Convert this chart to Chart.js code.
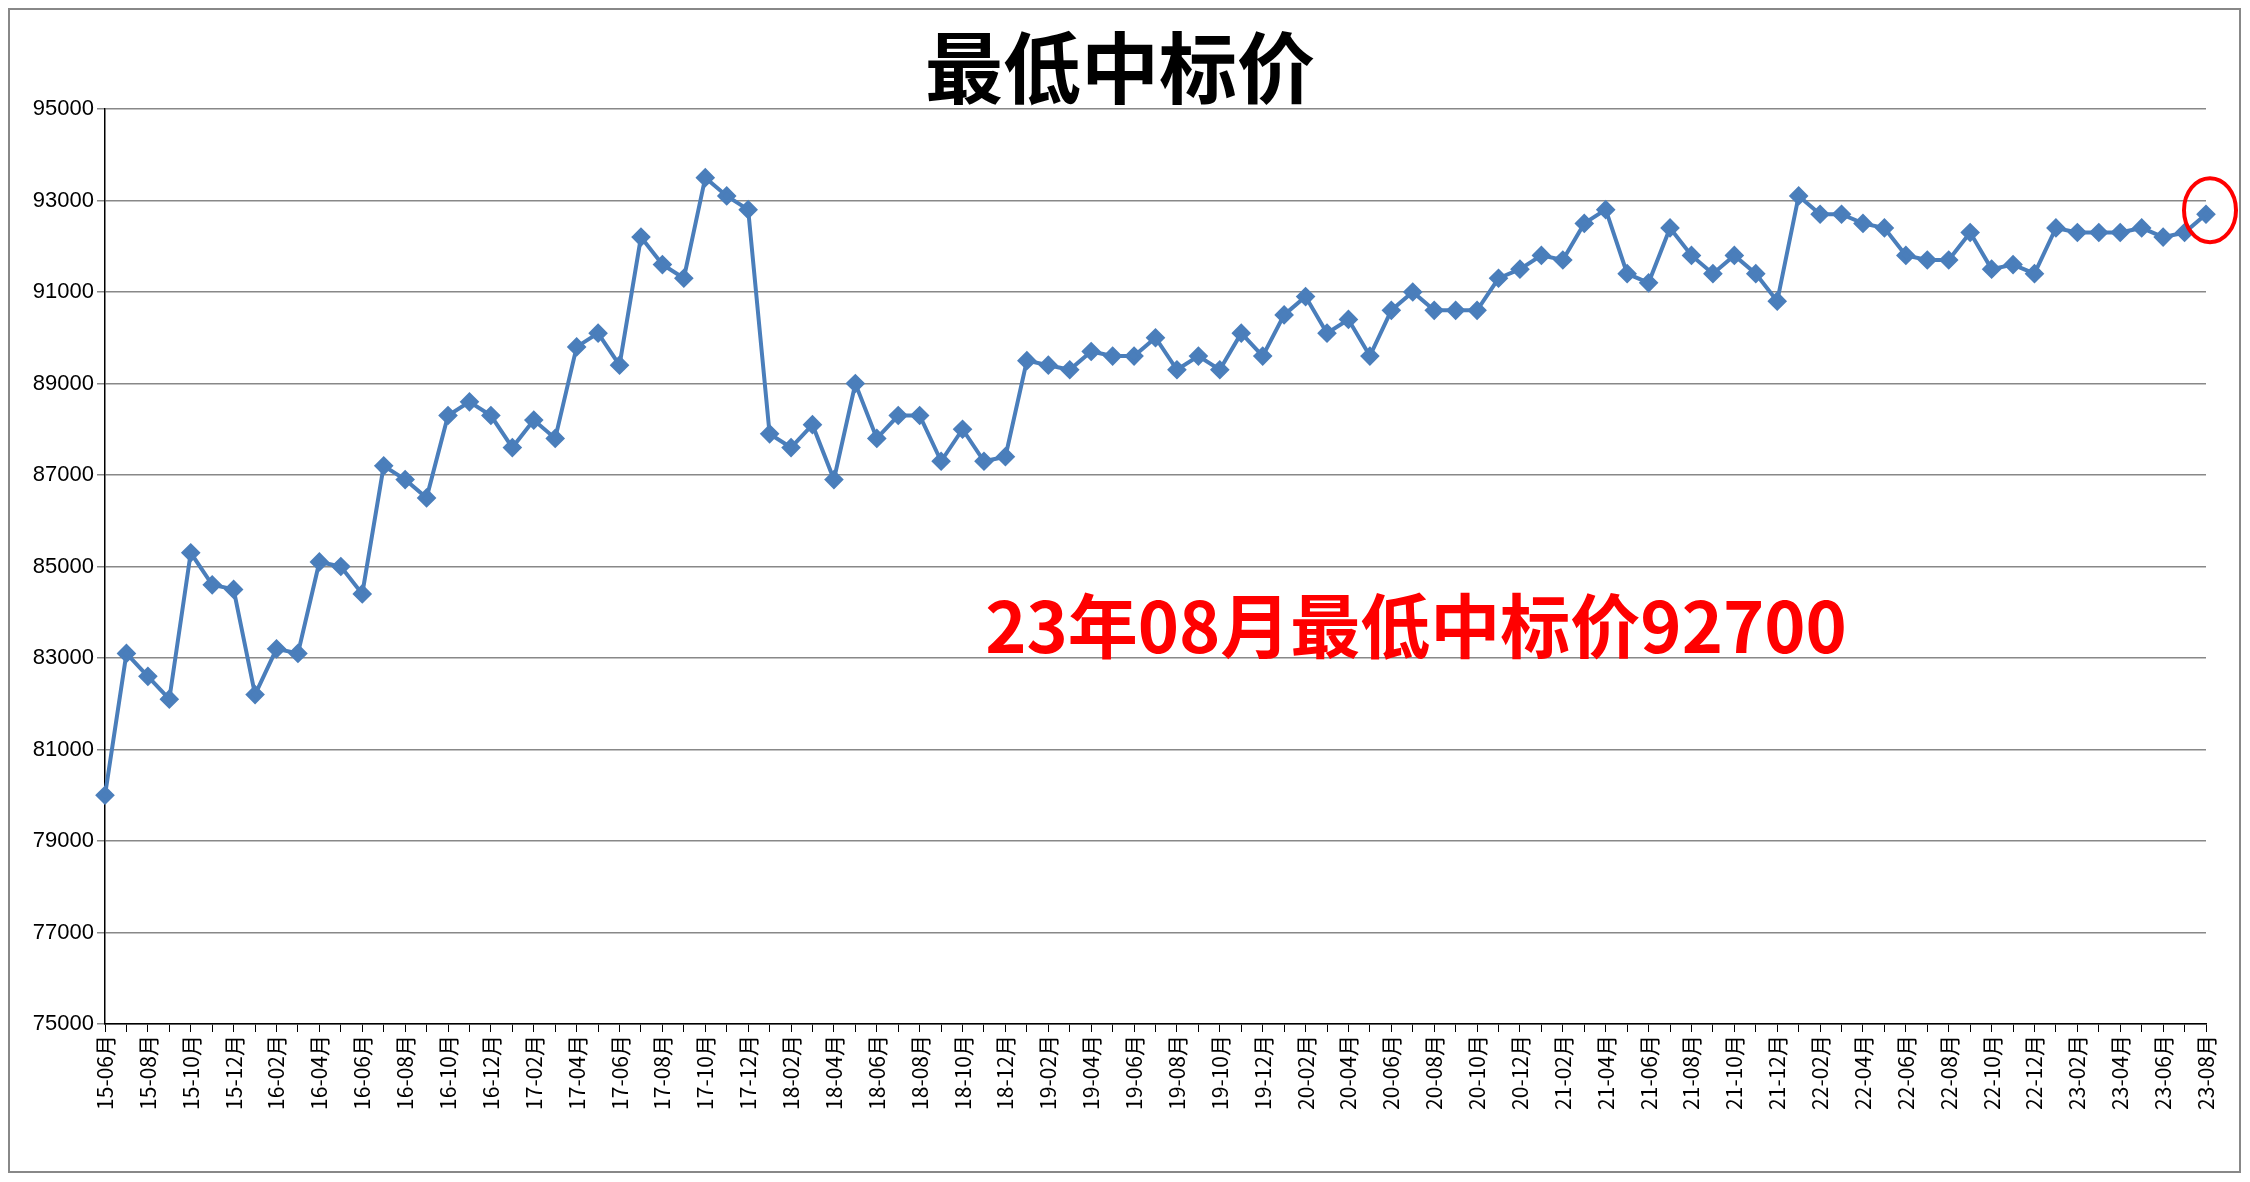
<!DOCTYPE html>
<html><head><meta charset="utf-8">
<script src="https://cdn.jsdelivr.net/npm/chart.js@4"></script>
<style>html,body{margin:0;padding:0;background:#fff}</style>
</head><body>
<canvas id="c" width="2250" height="1182"></canvas>
<script>
const months = [];
for (let y = 15; y <= 23; y++) for (let m = 1; m <= 12; m++) {
  if ((y === 15 && m < 6) || (y === 23 && m > 8)) continue;
  months.push(y + '-' + String(m).padStart(2, '0') + '月');
}
const prices = [80000,83100,82600,82100,85300,84600,84500,82200,83200,83100,85100,85000,84400,87200,86900,86500,88300,88600,88300,87600,88200,87800,89800,90100,89400,92200,91600,91300,93500,93100,92800,87900,87600,88100,86900,89000,87800,88300,88300,87300,88000,87300,87400,89500,89400,89300,89700,89600,89600,90000,89300,89600,89300,90100,89600,90500,90900,90100,90400,89600,90600,91000,90600,90600,90600,91300,91500,91800,91700,92500,92800,91400,91200,92400,91800,91400,91800,91400,90800,93100,92700,92700,92500,92400,91800,91700,91700,92300,91500,91600,91400,92400,92300,92300,92300,92400,92200,92300,92700];
const titleText = '最低中标价';
const noteText = '23年08月最低中标价92700';
const yMin = 75000, yMax = 95000, yStep = 2000;

const deco = {
  id: 'deco',
  afterDraw(chart) {
    const ctx = chart.ctx;
    ctx.save();
    ctx.strokeStyle = '#888'; ctx.lineWidth = 2;
    ctx.strokeRect(9, 9, 2231, 1163);
    ctx.fillStyle = '#000';
    ctx.font = 'bold 78px "Noto Sans CJK SC"';
    ctx.textAlign = 'center'; ctx.textBaseline = 'middle';
    ctx.fillText(titleText, 1120, 68);
    ctx.fillStyle = '#ff0000';
    ctx.font = 'bold 70px "Noto Sans CJK SC"';
    ctx.fillText(noteText, 1416, 626);
    const meta = chart.getDatasetMeta(0);
    const p = meta.data[meta.data.length - 1];
    ctx.strokeStyle = '#ff0000'; ctx.lineWidth = 4;
    ctx.beginPath(); ctx.ellipse(p.x + 4, p.y - 4, 26, 32, 0, 0, Math.PI * 2); ctx.stroke();
    ctx.restore();
  }
};

new Chart(document.getElementById('c'), {
  type: 'line',
  data: { labels: months, datasets: [{
    data: prices, borderColor: '#4a7ebb', backgroundColor: '#4a7ebb',
    borderWidth: 4, pointStyle: 'rectRot', pointRadius: 7, tension: 0
  }]},
  options: {
    responsive: false, animation: false,
    layout: { padding: { top: 109, right: 44, left: 0, bottom: 0 } },
    plugins: { legend: { display: false }, tooltip: { enabled: false } },
    scales: {
      x: {
        afterFit(s) { s.height = 158; },
        grid: { drawOnChartArea: false, drawTicks: true, tickLength: 8, color: '#000', offset: false },
        border: { color: '#000', width: 1.5 },
        ticks: { autoSkip: false, maxRotation: 90, minRotation: 90, color: '#000',
          font: { size: 21, family: '"Noto Sans CJK SC"' },
          callback(v, i) { return i % 2 === 0 ? months[i] : ''; } }
      },
      y: {
        min: yMin, max: yMax,
        afterFit(s) { s.width = 105; },
        grid: { color: '#888', lineWidth: 1.5 },
        border: { color: '#000', width: 1.5 },
        ticks: { stepSize: yStep, color: '#000', font: { size: 22, family: 'Liberation Sans' },
          callback(v) { return String(v); } }
      }
    }
  },
  plugins: [deco]
});
</script>
</body></html>
